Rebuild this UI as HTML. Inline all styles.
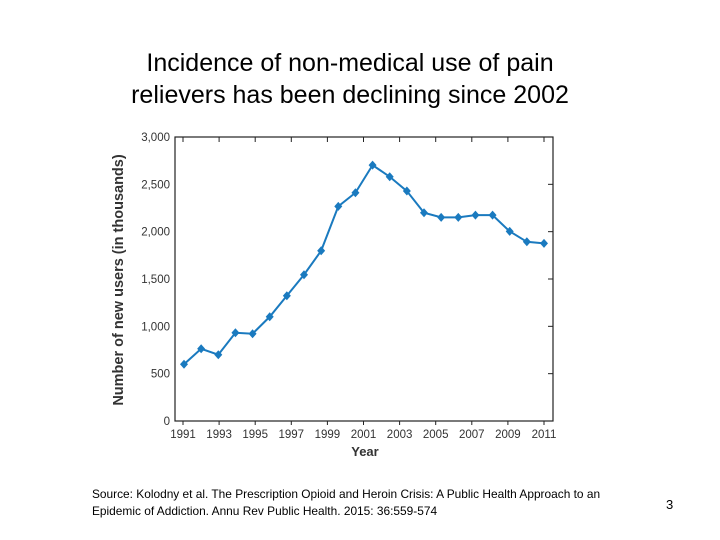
<!DOCTYPE html>
<html><head><meta charset="utf-8"><style>
body{margin:0;width:720px;height:540px;background:#fff;overflow:hidden;font-family:"Liberation Sans",sans-serif}
#title{position:absolute;left:0;width:700px;top:47px;text-align:center;font-size:25px;line-height:32px;color:#000}
#source{position:absolute;left:92px;top:486px;font-size:11.9px;line-height:17px;color:#000}
#page{position:absolute;left:666px;top:497px;font-size:13px}
svg{position:absolute;left:0;top:0}
</style></head><body>
<div id="title">Incidence of non-medical use of pain<br>relievers has been declining since 2002</div>
<svg id="chart" width="720" height="540"></svg>
<div id="source">Source: Kolodny et al. The Prescription Opioid and Heroin Crisis: A Public Health Approach to an<br>Epidemic of Addiction. Annu Rev Public Health. 2015: 36:559-574</div>
<div id="page">3</div>
<script>
const values=[599,763,700,932,922,1101,1323,1545,1798,2267,2411,2703,2580,2429,2200,2151,2151,2175,2175,2003,1893,1876];
const yTicks=[0,500,1000,1500,2000,2500,3000];
const yTickLabels=["0","500","1,000","1,500","2,000","2,500","3,000"];
const xTickLabels=["1991","1993","1995","1997","1999","2001","2003","2005","2007","2009","2011"];
const NS="http://www.w3.org/2000/svg";
const svg=document.getElementById('chart');
const L=175,R=553,T=137,B=421;
const y=v=>B-(B-T)*v/3000;
const xp=i=>184+i*(544-184)/(values.length-1);
const xt=i=>183+i*(544-183)/(xTickLabels.length-1);
function mk(t,a){const e=document.createElementNS(NS,t);for(const k in a)e.setAttribute(k,a[k]);svg.appendChild(e);return e;}
let f=mk('rect',{x:L,y:T,width:R-L,height:B-T,fill:'none',stroke:'#222','stroke-width':1.2});


yTicks.forEach((v,i)=>{
 mk('line',{x1:R-5,x2:R,y1:y(v),y2:y(v),stroke:'#222'});
 let t=mk('text',{x:L-5,y:y(v)+4,'text-anchor':'end','font-size':11.5,fill:'#333'});
 t.textContent=yTickLabels[i];
 
 
});
xTickLabels.forEach((s,i)=>{
 mk('line',{x1:xt(i),x2:xt(i),y1:B,y2:B+4,stroke:'#222'});
 mk('line',{x1:xt(i),x2:xt(i),y1:T,y2:T+5,stroke:'#222'});
 let t=mk('text',{x:xt(i),y:B+17,'text-anchor':'middle','font-size':11.5,fill:'#333'});
 t.textContent=s;
 
 
});
let xl=mk('text',{x:365,y:456,'text-anchor':'middle','font-size':13,'font-weight':'bold',fill:'#333'});
xl.textContent='Year';


let yl=mk('text',{x:0,y:0,'text-anchor':'middle','font-size':14.5,'font-weight':'bold',fill:'#333',transform:'translate(123,280) rotate(-90)'});
yl.textContent='Number of new users (in thousands)';


let ln=mk('polyline',{points:values.map((v,i)=>xp(i)+','+y(v)).join(' '),fill:'none',stroke:'#1a7abf','stroke-width':2});


values.forEach((v,i)=>{
 const cx=xp(i),cy=y(v);
 let p=mk('path',{d:`M${cx},${cy-4.5}L${cx+4},${cy}L${cx},${cy+4.5}L${cx-4},${cy}Z`,fill:'#1a7abf'});
 
 
});
</script>
</body></html>
